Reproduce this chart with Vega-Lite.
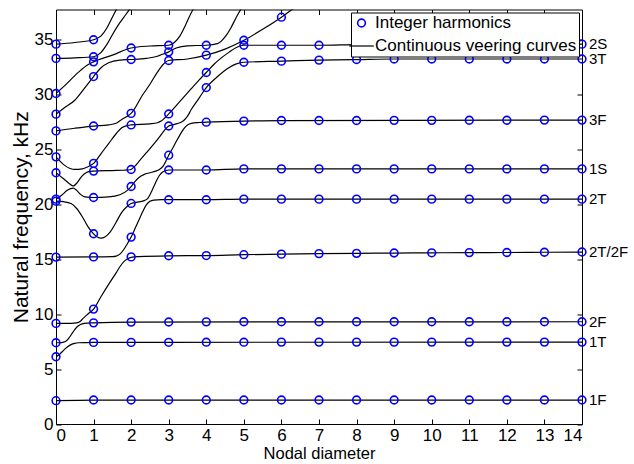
{
  "$schema": "https://vega.github.io/schema/vega-lite/v6.json",
  "autosize": {"type": "none"},
  "width": 526,
  "height": 414.5,
  "padding": {"left": 56, "top": 9.5, "right": 52, "bottom": 40},
  "background": "white",
  "config": {
    "font": "Liberation Sans",
    "view": {"stroke": "black", "strokeWidth": 1},
    "axis": {"grid": false, "domain": false, "tickColor": "black", "labelColor": "black", "titleColor": "black", "labelFontSize": 17, "titleFontSize": 16.5, "titleFontWeight": "normal", "labelFont": "Liberation Sans", "titleFont": "Liberation Sans"},
    "legend": {"labelFont": "Liberation Sans", "labelFontSize": 17, "labelColor": "black", "labelLimit": 0, "symbolSize": 676}
  },
  "datasets": {
    "harmonics": [
      {"nd":0,"f":2.12},{"nd":0,"f":6.12},{"nd":0,"f":7.39},{"nd":0,"f":9.15},{"nd":0,"f":15.18},{"nd":0,"f":20.27},{"nd":0,"f":20.45},{"nd":0,"f":22.85},{"nd":0,"f":24.3},{"nd":0,"f":26.66},{"nd":0,"f":28.18},{"nd":0,"f":30.06},{"nd":0,"f":33.25},{"nd":0,"f":34.55},
      {"nd":1,"f":2.18},{"nd":1,"f":7.42},{"nd":1,"f":9.2},{"nd":1,"f":10.45},{"nd":1,"f":15.2},{"nd":1,"f":17.3},{"nd":1,"f":20.6},{"nd":1,"f":23.0},{"nd":1,"f":23.7},{"nd":1,"f":27.1},{"nd":1,"f":31.6},{"nd":1,"f":32.94},{"nd":1,"f":33.4},{"nd":1,"f":34.95},
      {"nd":2,"f":2.18},{"nd":2,"f":7.42},{"nd":2,"f":9.27},{"nd":2,"f":15.2},{"nd":2,"f":17.0},{"nd":2,"f":20.06},{"nd":2,"f":21.6},{"nd":2,"f":23.15},{"nd":2,"f":27.2},{"nd":2,"f":28.25},{"nd":2,"f":33.15},{"nd":2,"f":34.2},
      {"nd":3,"f":2.18},{"nd":3,"f":7.43},{"nd":3,"f":9.28},{"nd":3,"f":15.3},{"nd":3,"f":20.4},{"nd":3,"f":23.1},{"nd":3,"f":24.45},{"nd":3,"f":27.1},{"nd":3,"f":28.2},{"nd":3,"f":33.06},{"nd":3,"f":33.85},{"nd":3,"f":34.45},
      {"nd":4,"f":2.18},{"nd":4,"f":7.44},{"nd":4,"f":9.29},{"nd":4,"f":15.32},{"nd":4,"f":20.4},{"nd":4,"f":23.1},{"nd":4,"f":27.45},{"nd":4,"f":30.6},{"nd":4,"f":31.97},{"nd":4,"f":33.55},{"nd":4,"f":34.45},
      {"nd":5,"f":2.18},{"nd":5,"f":7.44},{"nd":5,"f":9.3},{"nd":5,"f":15.4},{"nd":5,"f":20.45},{"nd":5,"f":23.2},{"nd":5,"f":27.55},{"nd":5,"f":32.9},{"nd":5,"f":34.45},{"nd":5,"f":34.9},
      {"nd":6,"f":2.18},{"nd":6,"f":7.45},{"nd":6,"f":9.3},{"nd":6,"f":15.45},{"nd":6,"f":20.45},{"nd":6,"f":23.2},{"nd":6,"f":27.6},{"nd":6,"f":33.0},{"nd":6,"f":34.45},{"nd":6,"f":37.0},
      {"nd":7,"f":2.18},{"nd":7,"f":7.45},{"nd":7,"f":9.3},{"nd":7,"f":15.5},{"nd":7,"f":20.45},{"nd":7,"f":23.2},{"nd":7,"f":27.6},{"nd":7,"f":33.1},{"nd":7,"f":34.45},
      {"nd":8,"f":2.18},{"nd":8,"f":7.45},{"nd":8,"f":9.3},{"nd":8,"f":15.52},{"nd":8,"f":20.45},{"nd":8,"f":23.2},{"nd":8,"f":27.6},{"nd":8,"f":33.15},{"nd":8,"f":34.5},
      {"nd":9,"f":2.18},{"nd":9,"f":7.45},{"nd":9,"f":9.3},{"nd":9,"f":15.55},{"nd":9,"f":20.45},{"nd":9,"f":23.2},{"nd":9,"f":27.62},{"nd":9,"f":33.2},{"nd":9,"f":34.5},
      {"nd":10,"f":2.18},{"nd":10,"f":7.45},{"nd":10,"f":9.3},{"nd":10,"f":15.57},{"nd":10,"f":20.45},{"nd":10,"f":23.2},{"nd":10,"f":27.62},{"nd":10,"f":33.2},{"nd":10,"f":34.5},
      {"nd":11,"f":2.18},{"nd":11,"f":7.45},{"nd":11,"f":9.3},{"nd":11,"f":15.59},{"nd":11,"f":20.45},{"nd":11,"f":23.2},{"nd":11,"f":27.63},{"nd":11,"f":33.2},{"nd":11,"f":34.55},
      {"nd":12,"f":2.18},{"nd":12,"f":7.45},{"nd":12,"f":9.3},{"nd":12,"f":15.6},{"nd":12,"f":20.45},{"nd":12,"f":23.2},{"nd":12,"f":27.63},{"nd":12,"f":33.2},{"nd":12,"f":34.55},
      {"nd":13,"f":2.18},{"nd":13,"f":7.45},{"nd":13,"f":9.3},{"nd":13,"f":15.62},{"nd":13,"f":20.45},{"nd":13,"f":23.2},{"nd":13,"f":27.64},{"nd":13,"f":33.2},{"nd":13,"f":34.55},
      {"nd":14,"f":2.18},{"nd":14,"f":7.45},{"nd":14,"f":9.3},{"nd":14,"f":15.64},{"nd":14,"f":20.45},{"nd":14,"f":23.2},{"nd":14,"f":27.64},{"nd":14,"f":33.2},{"nd":14,"f":34.55}
    ],
    "curves": [
      {"b":1,"nd":0,"f":2.12},{"b":1,"nd":1,"f":2.18},{"b":1,"nd":14,"f":2.18},
      {"b":2,"nd":0,"f":6.12},{"b":2,"nd":0.1,"f":6.35},{"b":2,"nd":0.2,"f":6.7},{"b":2,"nd":0.3,"f":7.0},{"b":2,"nd":0.4,"f":7.22},{"b":2,"nd":0.5,"f":7.34},{"b":2,"nd":0.6,"f":7.39},{"b":2,"nd":0.8,"f":7.41},{"b":2,"nd":1,"f":7.42},{"b":2,"nd":3,"f":7.43},{"b":2,"nd":14,"f":7.45},
      {"b":3,"nd":0,"f":7.39},{"b":3,"nd":0.15,"f":7.41},{"b":3,"nd":0.25,"f":7.5},{"b":3,"nd":0.35,"f":7.85},{"b":3,"nd":0.45,"f":8.35},{"b":3,"nd":0.55,"f":8.8},{"b":3,"nd":0.65,"f":9.05},{"b":3,"nd":0.75,"f":9.15},{"b":3,"nd":1,"f":9.2},{"b":3,"nd":2,"f":9.27},{"b":3,"nd":14,"f":9.3},
      {"b":4,"nd":0,"f":9.15},{"b":4,"nd":0.4,"f":9.16},{"b":4,"nd":0.55,"f":9.2},{"b":4,"nd":0.65,"f":9.35},{"b":4,"nd":0.75,"f":9.7},{"b":4,"nd":0.85,"f":10.0},{"b":4,"nd":1,"f":10.45},{"b":4,"nd":1.2,"f":11.6},{"b":4,"nd":1.4,"f":12.7},{"b":4,"nd":1.6,"f":13.75},{"b":4,"nd":1.7,"f":14.3},{"b":4,"nd":1.8,"f":14.75},{"b":4,"nd":1.9,"f":15.0},{"b":4,"nd":2,"f":15.15},{"b":4,"nd":2.2,"f":15.22},{"b":4,"nd":3,"f":15.3},{"b":4,"nd":4,"f":15.32},{"b":4,"nd":5,"f":15.4},{"b":4,"nd":6,"f":15.45},{"b":4,"nd":7,"f":15.5},{"b":4,"nd":8,"f":15.52},{"b":4,"nd":9,"f":15.55},{"b":4,"nd":10,"f":15.57},{"b":4,"nd":11,"f":15.59},{"b":4,"nd":12,"f":15.6},{"b":4,"nd":13,"f":15.62},{"b":4,"nd":14,"f":15.64},
      {"b":5,"nd":0,"f":15.18},{"b":5,"nd":1,"f":15.2},{"b":5,"nd":1.5,"f":15.22},{"b":5,"nd":1.6,"f":15.27},{"b":5,"nd":1.7,"f":15.45},{"b":5,"nd":1.8,"f":15.85},{"b":5,"nd":1.9,"f":16.4},{"b":5,"nd":2,"f":17.0},{"b":5,"nd":2.1,"f":17.75},{"b":5,"nd":2.2,"f":18.5},{"b":5,"nd":2.3,"f":19.25},{"b":5,"nd":2.4,"f":19.9},{"b":5,"nd":2.5,"f":20.25},{"b":5,"nd":2.6,"f":20.37},{"b":5,"nd":2.8,"f":20.4},{"b":5,"nd":4,"f":20.4},{"b":5,"nd":5,"f":20.45},{"b":5,"nd":14,"f":20.45},
      {"b":6,"nd":0,"f":20.27},{"b":6,"nd":0.2,"f":20.22},{"b":6,"nd":0.4,"f":20.05},{"b":6,"nd":0.55,"f":19.6},{"b":6,"nd":0.7,"f":18.85},{"b":6,"nd":0.85,"f":17.95},{"b":6,"nd":1,"f":17.3},{"b":6,"nd":1.1,"f":17.0},{"b":6,"nd":1.2,"f":16.9},{"b":6,"nd":1.3,"f":17.0},{"b":6,"nd":1.45,"f":17.5},{"b":6,"nd":1.6,"f":18.35},{"b":6,"nd":1.75,"f":19.25},{"b":6,"nd":1.9,"f":19.8},{"b":6,"nd":2,"f":20.06},{"b":6,"nd":2.2,"f":20.2},{"b":6,"nd":2.35,"f":20.32},{"b":6,"nd":2.45,"f":20.55},{"b":6,"nd":2.55,"f":21.2},{"b":6,"nd":2.65,"f":21.95},{"b":6,"nd":2.75,"f":22.6},{"b":6,"nd":2.85,"f":22.95},{"b":6,"nd":3,"f":23.1},{"b":6,"nd":4,"f":23.1},{"b":6,"nd":5,"f":23.2},{"b":6,"nd":14,"f":23.2},
      {"b":7,"nd":0,"f":20.45},{"b":7,"nd":0.15,"f":20.8},{"b":7,"nd":0.3,"f":21.25},{"b":7,"nd":0.46,"f":21.45},{"b":7,"nd":0.55,"f":21.25},{"b":7,"nd":0.65,"f":20.9},{"b":7,"nd":0.77,"f":20.65},{"b":7,"nd":1,"f":20.6},{"b":7,"nd":1.4,"f":20.65},{"b":7,"nd":1.7,"f":20.85},{"b":7,"nd":1.9,"f":21.25},{"b":7,"nd":2,"f":21.6},{"b":7,"nd":2.1,"f":22.05},{"b":7,"nd":2.2,"f":22.4},{"b":7,"nd":2.35,"f":22.7},{"b":7,"nd":2.5,"f":22.85},{"b":7,"nd":2.65,"f":23.0},{"b":7,"nd":2.75,"f":23.15},{"b":7,"nd":2.85,"f":23.45},{"b":7,"nd":2.93,"f":23.95},{"b":7,"nd":3,"f":24.45},{"b":7,"nd":3.1,"f":25.05},{"b":7,"nd":3.2,"f":25.7},{"b":7,"nd":3.3,"f":26.3},{"b":7,"nd":3.4,"f":26.85},{"b":7,"nd":3.5,"f":27.2},{"b":7,"nd":3.6,"f":27.35},{"b":7,"nd":3.8,"f":27.42},{"b":7,"nd":4,"f":27.45},{"b":7,"nd":5,"f":27.55},{"b":7,"nd":6,"f":27.6},{"b":7,"nd":14,"f":27.64},
      {"b":8,"nd":0,"f":22.85},{"b":8,"nd":0.24,"f":22.2},{"b":8,"nd":0.4,"f":21.75},{"b":8,"nd":0.46,"f":21.65},{"b":8,"nd":0.55,"f":21.9},{"b":8,"nd":0.68,"f":22.5},{"b":8,"nd":0.8,"f":22.85},{"b":8,"nd":0.9,"f":22.97},{"b":8,"nd":1,"f":23.0},{"b":8,"nd":1.5,"f":23.05},{"b":8,"nd":1.8,"f":23.08},{"b":8,"nd":1.92,"f":23.1},{"b":8,"nd":2,"f":23.15},{"b":8,"nd":2.1,"f":23.45},{"b":8,"nd":2.2,"f":23.85},{"b":8,"nd":2.4,"f":24.65},{"b":8,"nd":2.6,"f":25.45},{"b":8,"nd":2.75,"f":26.1},{"b":8,"nd":2.85,"f":26.55},{"b":8,"nd":2.95,"f":26.95},{"b":8,"nd":3,"f":27.1},{"b":8,"nd":3.15,"f":27.25},{"b":8,"nd":3.3,"f":27.4},{"b":8,"nd":3.4,"f":27.6},{"b":8,"nd":3.5,"f":28.0},{"b":8,"nd":3.6,"f":28.6},{"b":8,"nd":3.8,"f":29.6},{"b":8,"nd":4,"f":30.6},{"b":8,"nd":4.3,"f":31.6},{"b":8,"nd":4.6,"f":32.4},{"b":8,"nd":4.8,"f":32.75},{"b":8,"nd":5,"f":32.9},{"b":8,"nd":6,"f":33.0},{"b":8,"nd":7,"f":33.1},{"b":8,"nd":8,"f":33.15},{"b":8,"nd":9,"f":33.2},{"b":8,"nd":14,"f":33.2},
      {"b":9,"nd":0,"f":24.3},{"b":9,"nd":0.24,"f":23.5},{"b":9,"nd":0.5,"f":23.15},{"b":9,"nd":0.7,"f":23.2},{"b":9,"nd":0.85,"f":23.4},{"b":9,"nd":1,"f":23.7},{"b":9,"nd":1.2,"f":24.6},{"b":9,"nd":1.4,"f":25.5},{"b":9,"nd":1.6,"f":26.4},{"b":9,"nd":1.75,"f":26.95},{"b":9,"nd":1.9,"f":27.15},{"b":9,"nd":2,"f":27.2},{"b":9,"nd":2.5,"f":27.3},{"b":9,"nd":2.7,"f":27.4},{"b":9,"nd":2.8,"f":27.55},{"b":9,"nd":2.9,"f":27.85},{"b":9,"nd":3,"f":28.2},{"b":9,"nd":3.3,"f":29.35},{"b":9,"nd":3.6,"f":30.5},{"b":9,"nd":3.8,"f":31.25},{"b":9,"nd":4,"f":31.97},{"b":9,"nd":4.2,"f":32.7},{"b":9,"nd":4.4,"f":33.3},{"b":9,"nd":4.6,"f":33.8},{"b":9,"nd":4.8,"f":34.25},{"b":9,"nd":5,"f":34.45},{"b":9,"nd":7,"f":34.45},{"b":9,"nd":8,"f":34.5},{"b":9,"nd":11,"f":34.55},{"b":9,"nd":14,"f":34.55},
      {"b":10,"nd":0,"f":26.66},{"b":10,"nd":0.5,"f":26.9},{"b":10,"nd":1,"f":27.1},{"b":10,"nd":1.4,"f":27.2},{"b":10,"nd":1.6,"f":27.35},{"b":10,"nd":1.75,"f":27.7},{"b":10,"nd":1.9,"f":28.0},{"b":10,"nd":2,"f":28.25},{"b":10,"nd":2.3,"f":29.9},{"b":10,"nd":2.5,"f":30.9},{"b":10,"nd":2.7,"f":32.0},{"b":10,"nd":2.85,"f":32.7},{"b":10,"nd":3,"f":33.06},{"b":10,"nd":3.5,"f":33.2},{"b":10,"nd":4,"f":33.55},{"b":10,"nd":4.5,"f":34.1},{"b":10,"nd":5,"f":34.9},{"b":10,"nd":5.5,"f":35.9},{"b":10,"nd":6,"f":37.0},{"b":10,"nd":6.2,"f":37.5},{"b":10,"nd":6.45,"f":38.1},
      {"b":11,"nd":0,"f":28.18},{"b":11,"nd":0.24,"f":28.8},{"b":11,"nd":0.5,"f":29.45},{"b":11,"nd":0.75,"f":30.5},{"b":11,"nd":1,"f":31.6},{"b":11,"nd":1.2,"f":32.4},{"b":11,"nd":1.4,"f":32.85},{"b":11,"nd":1.7,"f":33.1},{"b":11,"nd":2,"f":33.15},{"b":11,"nd":2.4,"f":33.25},{"b":11,"nd":2.7,"f":33.45},{"b":11,"nd":2.85,"f":33.65},{"b":11,"nd":3,"f":33.85},{"b":11,"nd":3.2,"f":34.2},{"b":11,"nd":3.5,"f":34.4},{"b":11,"nd":4,"f":34.45},{"b":11,"nd":4.3,"f":34.6},{"b":11,"nd":4.5,"f":35.2},{"b":11,"nd":4.65,"f":36.0},{"b":11,"nd":4.8,"f":37.0},{"b":11,"nd":4.95,"f":37.9},
      {"b":12,"nd":0,"f":30.06},{"b":12,"nd":0.24,"f":30.8},{"b":12,"nd":0.6,"f":32.0},{"b":12,"nd":0.86,"f":32.7},{"b":12,"nd":1,"f":32.94},{"b":12,"nd":1.5,"f":33.55},{"b":12,"nd":2,"f":34.2},{"b":12,"nd":2.5,"f":34.38},{"b":12,"nd":3,"f":34.45},{"b":12,"nd":3.15,"f":34.7},{"b":12,"nd":3.3,"f":35.3},{"b":12,"nd":3.45,"f":36.3},{"b":12,"nd":3.6,"f":37.4},{"b":12,"nd":3.7,"f":38.0},
      {"b":13,"nd":0,"f":33.25},{"b":13,"nd":0.5,"f":33.3},{"b":13,"nd":1,"f":33.4},{"b":13,"nd":1.2,"f":33.8},{"b":13,"nd":1.35,"f":34.5},{"b":13,"nd":1.5,"f":35.4},{"b":13,"nd":1.7,"f":36.5},{"b":13,"nd":1.85,"f":37.2},{"b":13,"nd":2,"f":37.9},
      {"b":14,"nd":0,"f":34.55},{"b":14,"nd":0.5,"f":34.7},{"b":14,"nd":1,"f":34.95},{"b":14,"nd":1.2,"f":35.3},{"b":14,"nd":1.35,"f":36.0},{"b":14,"nd":1.5,"f":37.0},{"b":14,"nd":1.62,"f":37.8}
    ],
    "families": [
      {"nd":14,"f":34.55,"label":"2S"},{"nd":14,"f":33.2,"label":"3T"},{"nd":14,"f":27.64,"label":"3F"},{"nd":14,"f":23.2,"label":"1S"},{"nd":14,"f":20.45,"label":"2T"},{"nd":14,"f":15.64,"label":"2T/2F"},{"nd":14,"f":9.3,"label":"2F"},{"nd":14,"f":7.45,"label":"1T"},{"nd":14,"f":2.18,"label":"1F"}
    ]
  },
  "resolve": {"axis": {"x": "independent", "y": "independent"}},
  "layer": [
    {
      "data": {"name": "curves"},
      "mark": {"type": "line", "interpolate": "monotone", "clip": true, "strokeWidth": 1.2},
      "encoding": {
        "x": {"field": "nd", "type": "quantitative", "scale": {"domain": [0, 14], "nice": false, "zero": false},
              "axis": {"orient": "bottom", "values": [0,1,2,3,4,5,6,7,8,9,10,11,12,13,14], "title": "Nodal diameter", "tickSize": -5, "labelPadding": 8, "titlePadding": 2}},
        "y": {"field": "f", "type": "quantitative", "scale": {"domain": [0, 37.7], "nice": false, "zero": false},
              "axis": {"orient": "left", "values": [0,5,10,15,20,25,30,35], "title": "Natural frequency, kHz", "titleFontSize": 21, "tickSize": -5, "labelPadding": 8, "titlePadding": 3}},
        "detail": {"field": "b", "type": "nominal"},
        "color": {"datum": "Continuous veering curves", "type": "nominal",
                  "scale": {"domain": ["Integer harmonics", "Continuous veering curves"], "range": ["#0000ff", "#000000"]},
                  "legend": {"title": null, "orient": "top-right", "offset": 3, "padding": 2, "strokeColor": "black", "fillColor": "white", "rowPadding": 5, "labelOffset": 5,
                             "encode": {"symbols": {"update": {
                               "shape": {"signal": "datum.value === 'Integer harmonics' ? 'circle' : 'M-1,0L1,0'"},
                               "size": {"signal": "datum.value === 'Integer harmonics' ? 60 : 600"},
                               "fill": {"value": "transparent"},
                               "stroke": {"signal": "datum.value === 'Integer harmonics' ? '#0000ff' : '#000000'"},
                               "strokeWidth": {"signal": "datum.value === 'Integer harmonics' ? 1.6 : 1.2"}
                             }}}}}
      }
    },
    {
      "data": {"name": "harmonics"},
      "mark": {"type": "point", "filled": false, "size": 60, "strokeWidth": 1.6, "opacity": 1},
      "encoding": {
        "x": {"field": "nd", "type": "quantitative", "axis": {"orient": "top", "labels": false, "title": null, "values": [0,1,2,3,4,5,6,7,8,9,10,11,12,13,14], "tickSize": -5}},
        "y": {"field": "f", "type": "quantitative", "axis": {"orient": "right", "labels": false, "title": null, "values": [0,5,10,15,20,25,30,35], "tickSize": -5}},
        "color": {"datum": "Integer harmonics", "type": "nominal"}
      }
    },
    {
      "data": {"name": "families"},
      "mark": {"type": "text", "align": "left", "baseline": "middle", "dx": 7, "fontSize": 15, "font": "Liberation Sans", "color": "black"},
      "encoding": {
        "x": {"field": "nd", "type": "quantitative", "axis": null},
        "y": {"field": "f", "type": "quantitative", "axis": null},
        "text": {"field": "label"}
      }
    }
  ]
}
